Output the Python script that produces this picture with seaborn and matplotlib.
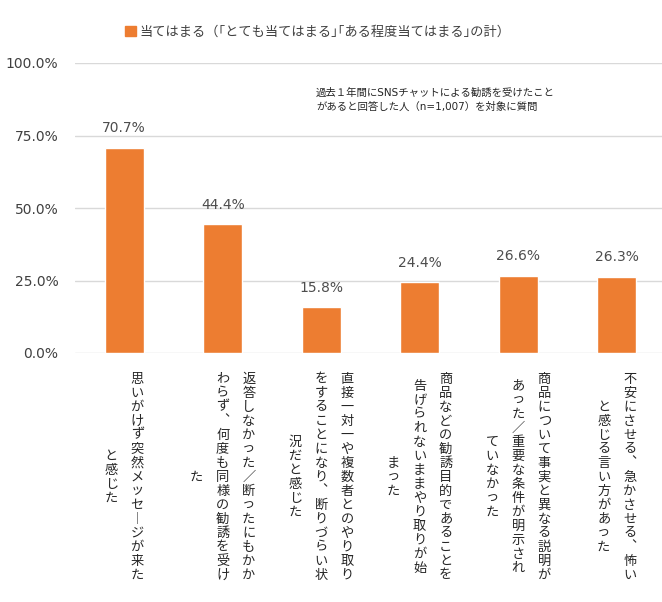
import matplotlib
matplotlib.use("Agg")
import matplotlib.pyplot as plt
from matplotlib.patches import Patch
import pandas as pd
import seaborn as sns

# values (percent)
categories = [
    "思いがけず突然メッセージが来たと感じた",
    "返答しなかった／断ったにもかかわらず、何度も同様の勧誘を受けた",
    "直接一対一や複数者とのやり取りをすることになり、断りづらい状況だと感じた",
    "商品などの勧誘目的であることを告げられないままやり取りが始まった",
    "商品について事実と異なる説明があった／重要な条件が明示されていなかった",
    "不安にさせる、急かさせる、怖いと感じる言い方があった",
]
values = [70.7, 44.4, 15.8, 24.4, 26.6, 26.3]

# vertical tick labels, columns read right to left
label_columns = [
    ["思いがけず突然メッセージが来た", "と感じた"],
    ["返答しなかった／断ったにもかか", "わらず、何度も同様の勧誘を受け", "た"],
    ["直接一対一や複数者とのやり取り", "をすることになり、断りづらい状", "況だと感じた"],
    ["商品などの勧誘目的であることを", "告げられないままやり取りが始", "まった"],
    ["商品について事実と異なる説明が", "あった／重要な条件が明示され", "ていなかった"],
    ["不安にさせる、急かさせる、怖い", "と感じる言い方があった"],
]
yticks = [0, 25, 50, 75, 100]

legend_label = "当てはまる（｢とても当てはまる｣｢ある程度当てはまる｣の計）"
note = "過去１年間にSNSチャットによる勧誘を受けたこと\nがあると回答した人（n=1,007）を対象に質問"

ORANGE = "#ED7D31"
GREY = "#404040"

sns.set_style("white")
plt.rcParams["font.family"] = ["DejaVu Sans", "Noto Sans CJK JP"]

df = pd.DataFrame({"item": categories, "pct": values})

fig = plt.figure(figsize=(6.62, 6.02), dpi=100)
ax = fig.add_axes([75 / 662, 1 - 353 / 602, 1 - 75 / 662, 290 / 602])

sns.barplot(data=df, x="item", y="pct", color=ORANGE, width=0.4,
            saturation=1, ax=ax, zorder=3)

ax.set_ylim(0, 100)
ax.set_xlim(-0.5, 5.46)
ax.set_yticks(yticks)
ax.set_yticklabels([f"{v:.1f}%" for v in yticks], fontsize=10, color=GREY)
ax.tick_params(axis="y", length=0, pad=12)
ax.set_xticks([])
ax.set_xlabel("")
ax.set_ylabel("")
ax.yaxis.grid(True, color="#D9D9D9", lw=1)
ax.set_axisbelow(True)
sns.despine(ax=ax, left=True, bottom=True)

ax.bar_label(ax.containers[0], labels=[f"{v:.1f}%" for v in values],
             padding=9, fontsize=10, color="#4D4D4D")

# vertical (tategaki) category labels
vert = str.maketrans({"ー": "︱", "、": "︑"})
trans = ax.get_xaxis_transform()
pitch = 0.264
for i, cols in enumerate(label_columns):
    n = len(cols)
    for j, col in enumerate(cols):
        x = i + ((n - 1) / 2 - j) * pitch
        ax.text(x, -0.4276, "\n".join(col.translate(vert)), transform=trans,
                ha="center", va="center", multialignment="center",
                fontsize=9.5, linespacing=1.1, color="#262626", clip_on=False)

fig.legend(handles=[Patch(color=ORANGE)], labels=[legend_label],
           loc="center", bbox_to_anchor=(318 / 662, 1 - 32 / 602),
           frameon=False, fontsize=9.5, handlelength=0.8, handleheight=0.8,
           handletextpad=0.3, labelcolor=GREY)

fig.text(316 / 662, 1 - 100 / 602, note, fontsize=7.5, ha="left", va="center",
         linespacing=1.4, color="#262626")

fig.savefig("out.png", dpi=100)
